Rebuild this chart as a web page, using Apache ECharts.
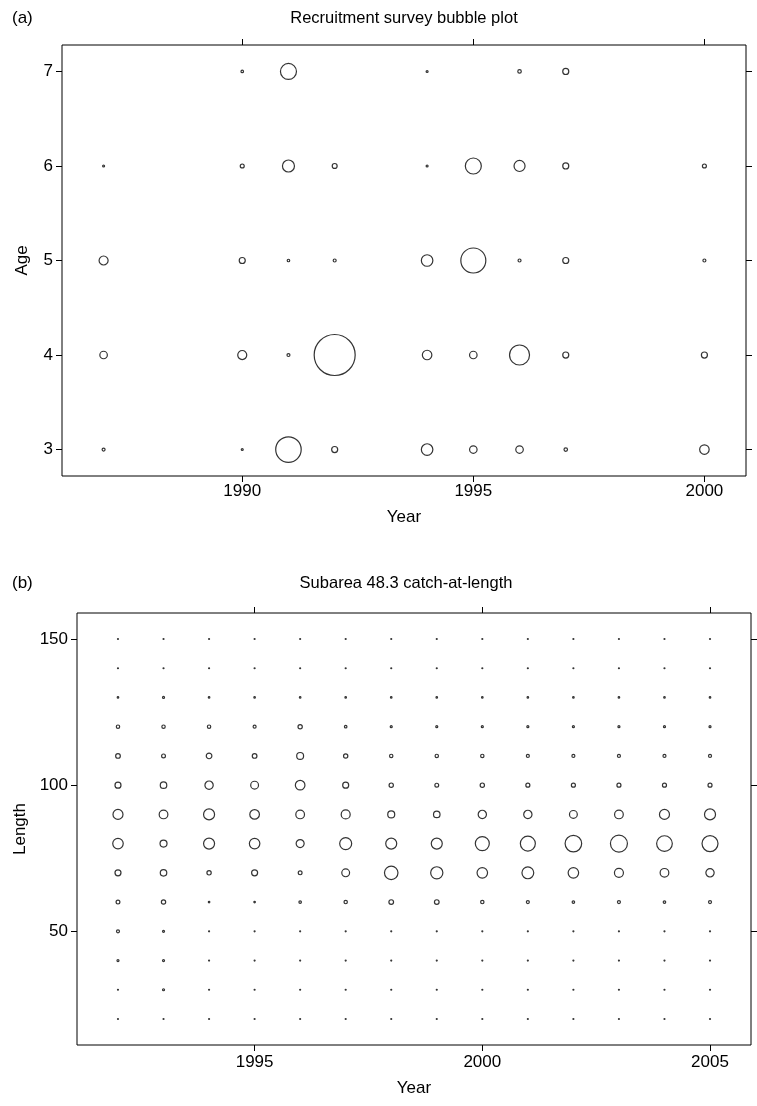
<!DOCTYPE html>
<html>
<head>
<meta charset="utf-8">
<script src="https://cdn.jsdelivr.net/npm/echarts@6/dist/echarts.min.js"></script>
<style>
html,body{margin:0;padding:0;background:#fff;}
#chart{width:757px;height:1106px;}
</style>
</head>
<body>
<div id="chart"></div>
<script>
// ---------- Panel (a): Recruitment survey ----------
var surveyYears = [1987, 1990, 1991, 1992, 1994, 1995, 1996, 1997, 2000];
var ages = [3, 4, 5, 6, 7];
var age3 = [0.9, 0.5, 39.8, 2.8, 8.9, 4.1, 4.1, 1.15, 6.25];
var age4 = [4.1, 5.7, 0.9, 100, 6.25, 4.1, 25, 2.8, 2.8];
var age5 = [5.7, 2.8, 0.7, 0.9, 8.9, 38.3, 0.9, 2.8, 0.9];
var age6 = [0.5, 1.4, 9.6, 2.0, 0.5, 16.4, 8.2, 2.8, 1.4];
var age7 = [null, 0.7, 16.4, null, 0.5, null, 1.15, 2.8, null];
var ageRows = [age3, age4, age5, age6, age7];
var yearTicksA = [1990, 1995, 2000];
var ageTicks = [3, 4, 5, 6, 7];

// ---------- Panel (b): Subarea 48.3 catch-at-length ----------
var calYears = [1992, 1993, 1994, 1995, 1996, 1997, 1998, 1999, 2000, 2001, 2002, 2003, 2004, 2005];
var lengths = [20, 30, 40, 50, 60, 70, 80, 90, 100, 110, 120, 130, 140, 150];
var len20  = [1, 1, 1, 1, 1, 1, 1, 1, 1, 1, 1, 1, 1, 1];
var len30  = [1, 2.3, 1, 1, 1, 1, 1, 1, 1, 1, 1, 1, 1, 1];
var len40  = [2.3, 2.3, 1, 1, 1, 1, 1, 1, 1, 1, 1, 1, 1, 1];
var len50  = [4, 2.3, 1, 1, 1, 1, 1, 1, 1, 1, 1, 1, 1, 1];
var len60  = [5.8, 7, 1.6, 1.6, 3.1, 4.8, 8.1, 8.1, 4.8, 4, 3.1, 4, 3.1, 4];
var len70  = [12.3, 14.1, 7, 12.3, 5.8, 19.4, 52.6, 43.6, 33.1, 41, 33.1, 25, 23.5, 21.6];
var len80  = [33.1, 16, 36, 33.1, 20.3, 42.3, 36, 36, 56.3, 64, 77.4, 81, 69.7, 72.3];
var len90  = [30.3, 23.5, 36, 28.1, 23.5, 25, 16, 14.1, 21.6, 21.6, 19.4, 23.5, 30.3, 36];
var len100 = [12.3, 14.1, 21.6, 19.4, 28.1, 12.3, 7, 5.8, 7, 6.3, 6.3, 6.3, 6.3, 6.3];
var len110 = [8.1, 5.8, 10.9, 8.1, 15.6, 7, 4.8, 4.8, 4.8, 4, 4, 4, 4, 4];
var len120 = [4.8, 4.8, 4.8, 4, 7, 3.1, 2.3, 2.3, 2.3, 2.3, 2.3, 2.3, 2.3, 2.3];
var len130 = [1.6, 2.3, 1.6, 1.6, 1.6, 1.6, 1.6, 1.6, 1.6, 1.6, 1.6, 1.6, 1.6, 1.6];
var len140 = [1, 1, 1, 1, 1, 1, 1, 1, 1, 1, 1, 1, 1, 1];
var len150 = [1, 1, 1, 1, 1, 1, 1, 1, 1, 1, 1, 1, 1, 1];
var lengthRows = [len20, len30, len40, len50, len60, len70, len80, len90, len100, len110, len120, len130, len140, len150];
var yearTicksB = [1995, 2000, 2005];
var lengthTicks = [50, 100, 150];

// build point lists
var dataA = [];
ages.forEach(function (a, i) {
  surveyYears.forEach(function (y, j) {
    var v = ageRows[i][j];
    if (v != null) dataA.push([y, a, v]);
  });
});
var dataB = [];
lengths.forEach(function (l, i) {
  calYears.forEach(function (y, j) {
    var v = lengthRows[i][j];
    if (v != null) dataB.push([y, l, v]);
  });
});

var FONT = 'Liberation Sans, Arial, Helvetica, sans-serif';
var TXT = '#000';
var LBL = 17;
function plain(v) { return String(Math.round(v)); }

function xAxes(gridIndex, min, max, ticks, name, labelMargin, nameGap) {
  return [{
    type: 'value', gridIndex: gridIndex, position: 'bottom', min: min, max: max,
    axisLine: { show: false },
    splitLine: { show: false },
    axisTick: { show: true, length: 6, customValues: ticks, lineStyle: { color: '#000', width: 1 } },
    axisLabel: { show: true, customValues: ticks, formatter: plain, margin: labelMargin, color: TXT, fontFamily: FONT, fontSize: LBL },
    name: name, nameLocation: 'middle', nameGap: nameGap,
    nameTextStyle: { color: TXT, fontFamily: FONT, fontSize: LBL }
  }, {
    type: 'value', gridIndex: gridIndex, position: 'top', min: min, max: max,
    axisLine: { show: false },
    splitLine: { show: false },
    axisTick: { show: true, length: 6, customValues: ticks, lineStyle: { color: '#000', width: 1 } },
    axisLabel: { show: false }
  }];
}
function yAxes(gridIndex, min, max, ticks, name, gap) {
  return [{
    type: 'value', gridIndex: gridIndex, position: 'left', min: min, max: max,
    axisLine: { show: false },
    splitLine: { show: false },
    axisTick: { show: true, length: 6, customValues: ticks, lineStyle: { color: '#000', width: 1 } },
    axisLabel: { show: true, customValues: ticks, formatter: plain, margin: 9, color: TXT, fontFamily: FONT, fontSize: LBL },
    name: name, nameLocation: 'middle', nameGap: gap, nameRotate: 90,
    nameTextStyle: { color: TXT, fontFamily: FONT, fontSize: LBL }
  }, {
    type: 'value', gridIndex: gridIndex, position: 'right', min: min, max: max,
    axisLine: { show: false },
    splitLine: { show: false },
    axisTick: { show: true, length: 6, customValues: ticks, lineStyle: { color: '#000', width: 1 } },
    axisLabel: { show: false }
  }];
}

var circleStyle = { color: 'rgba(0,0,0,0)', borderColor: '#000', borderWidth: 1.2 };

var option = {
  backgroundColor: '#fff',
  animation: false,
  grid: [
    { left: 62, top: 45, width: 684, height: 431, show: true, borderColor: '#000', borderWidth: 1, backgroundColor: 'transparent' },
    { left: 77, top: 613, width: 674, height: 432, show: true, borderColor: '#000', borderWidth: 1, backgroundColor: 'transparent' }
  ],
  xAxis: xAxes(0, 1986.1, 2000.9, yearTicksA, 'Year', 7, 33).concat(xAxes(1, 1991.1, 2005.9, yearTicksB, 'Year', 9, 35)),
  yAxis: yAxes(0, 2.72, 7.28, ageTicks, 'Age', 31).concat(yAxes(1, 11.1, 158.9, lengthTicks, 'Length', 47)),
  graphic: [
    { type: 'text', x: 12, y: 18, style: { text: '(a)', fill: TXT, font: '17px ' + FONT, textVerticalAlign: 'middle' } },
    { type: 'text', x: 404, y: 18, style: { text: 'Recruitment survey bubble plot', fill: TXT, font: '16.5px ' + FONT, textAlign: 'center', textVerticalAlign: 'middle' } },
    { type: 'text', x: 12, y: 583, style: { text: '(b)', fill: TXT, font: '17px ' + FONT, textVerticalAlign: 'middle' } },
    { type: 'text', x: 406, y: 583, style: { text: 'Subarea 48.3 catch-at-length', fill: TXT, font: '16.5px ' + FONT, textAlign: 'center', textVerticalAlign: 'middle' } }
  ],
  series: [{
    type: 'scatter', xAxisIndex: 0, yAxisIndex: 0, data: dataA, silent: true,
    symbol: 'circle',
    symbolSize: function (d) { return Math.max(1, Math.sqrt(d[2]) * 4.2 - 1); },
    itemStyle: circleStyle, emphasis: { disabled: true }
  }, {
    type: 'scatter', xAxisIndex: 2, yAxisIndex: 2, data: dataB, silent: true,
    symbol: 'circle',
    symbolSize: function (d) { return Math.max(1, Math.sqrt(d[2]) * 2 - 1); },
    itemStyle: circleStyle, emphasis: { disabled: true }
  }]
};

var chart = echarts.init(document.getElementById('chart'), null, { renderer: 'canvas' });
chart.setOption(option);
</script>
</body>
</html>
